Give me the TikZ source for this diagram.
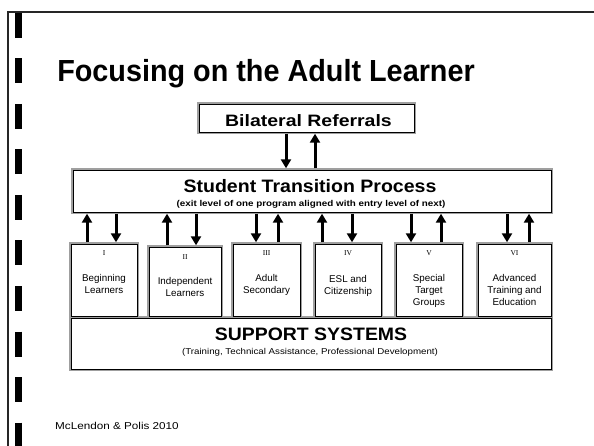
\documentclass[tikz,border=0pt]{standalone}
\usepackage{graphicx}
\usepackage{fontspec}
\setmainfont{Liberation Sans}
\newfontfamily\numfont{Liberation Serif}
\usetikzlibrary{arrows.meta}
\newcommand{\hs}[2]{\scalebox{#1}[1]{#2}}
\begin{document}
\begin{tikzpicture}[x=1pt,y=-1pt,
  box/.style={draw=gray!75, line width=1.4pt, inner sep=0pt, fill=white},
  arr/.style={line width=3pt, -{Triangle[length=9pt,width=10pt]}},
  txt/.style={inner sep=0pt, anchor=base},
  lbl/.style={inner sep=0pt, align=center, font=\fontsize{9.8}{12}\selectfont},
  num/.style={inner sep=0pt, anchor=base, font=\numfont\fontsize{7.5}{9}\selectfont}]
\useasboundingbox (0,0) rectangle (594,446);
% slide frame
\draw[line width=2pt, black!85] (8,446) -- (8,12) -- (594,12);
\draw[line width=7pt, dash pattern=on 25pt off 20.5pt] (18.5,13) -- (18.5,446);
% title
\node[txt, font=\bfseries\fontsize{30.5}{31}\selectfont] (title) at (266,82) {\hs{0.944}{Focusing on the Adult Learner}};
% top boxes
\node[box, minimum width=217pt, minimum height=30pt] (br) at (306.5,118) {};
\node[box, minimum width=480pt, minimum height=44pt] (stp) at (312,191) {};
% bottom boxes
\node[box, minimum width=68pt, minimum height=74pt] (b1) at (104,280) {};
\node[box, minimum width=74pt, minimum height=71pt] (b2) at (185,281.5) {};
\node[box, minimum width=69pt, minimum height=74pt] (b3) at (266.5,280) {};
\node[box, minimum width=68pt, minimum height=74pt] (b4) at (348,280) {};
\node[box, minimum width=68pt, minimum height=74pt] (b5) at (429,280) {};
\node[box, minimum width=75pt, minimum height=74pt] (b6) at (514.5,280) {};
\node[box, minimum width=482pt, minimum height=53pt] (sup) at (311,343.5) {};
% inner dark borders
\foreach \n in {br,stp,b1,b2,b3,b4,b5,b6,sup}
  \draw[black, line width=0.7pt] ([shift={(1.6pt,-1.6pt)}]\n.north west) rectangle ([shift={(-1.6pt,1.6pt)}]\n.south east);
% texts
\node[txt, font=\bfseries\fontsize{16.5}{17}\selectfont] (brt) at (308.5,127) {\hs{1.18}{Bilateral Referrals}};
\node[txt, font=\bfseries\fontsize{18}{18}\selectfont] (stpt) at (310,193) {\hs{1.085}{Student Transition Process}};
\node[txt, font=\bfseries\fontsize{8.5}{9}\selectfont] (stps) at (311,206.5) {\hs{1.157}{(exit level of one program aligned with entry level of next)}};
\node[txt, font=\bfseries\fontsize{18}{18}\selectfont] (supt) at (311,340) {\hs{1.08}{SUPPORT SYSTEMS}};
\node[txt, font=\fontsize{8.5}{9}\selectfont] (sups) at (310,354) {\hs{1.144}{(Training, Technical Assistance, Professional Development)}};
\node[txt, anchor=base west, font=\fontsize{10}{10}\selectfont] (ft) at (55,429) {\hs{1.17}{McLendon \& Polis 2010}};
% numerals
\node[num] (n1) at (104,256) {I};
\node[num] (n2) at (185,260) {II};
\node[num] (n3) at (266.5,256) {III};
\node[num] (n4) at (348,256) {IV};
\node[num] (n5) at (429,256) {V};
\node[num] (n6) at (514.5,256) {VI};
% box labels
\node[lbl] (l1) at (104,284) {Beginning\\Learners};
\node[lbl] (l2) at (185,287) {Independent\\Learners};
\node[lbl] (l3) at (266.5,285) {Adult\\Secondary};
\node[lbl] (l4) at (348,285.5) {ESL and\\Citizenship};
\node[lbl] (l5) at (429,291) {Special\\Target\\Groups};
\node[lbl] (l6) at (514.5,290) {Advanced\\Training and\\Education};
% arrows between Bilateral Referrals and Student Transition Process
\draw[arr] ([xshift=-20.5pt]br.south) -- ([xshift=-20.5pt]br.south |- stp.north);
\draw[arr] ([xshift=8.5pt]br.south |- stp.north) -- ([xshift=8.5pt]br.south);
% arrows between Student Transition Process and programs
\draw[arr] ([xshift=-17pt]b1.north) -- ([xshift=-17pt]b1.north |- stp.south);
\draw[arr] ([xshift=12pt]b1.north |- stp.south) -- ([xshift=12pt]b1.north);
\draw[arr] ([xshift=-18pt]b2.north) -- ([xshift=-18pt]b2.north |- stp.south);
\draw[arr] ([xshift=11pt]b2.north |- stp.south) -- ([xshift=11pt]b2.north);
\draw[arr] ([xshift=-10.5pt]b3.north |- stp.south) -- ([xshift=-10.5pt]b3.north);
\draw[arr] ([xshift=11.5pt]b3.north) -- ([xshift=11.5pt]b3.north |- stp.south);
\draw[arr] ([xshift=-26pt]b4.north) -- ([xshift=-26pt]b4.north |- stp.south);
\draw[arr] ([xshift=4pt]b4.north |- stp.south) -- ([xshift=4pt]b4.north);
\draw[arr] ([xshift=-18pt]b5.north |- stp.south) -- ([xshift=-18pt]b5.north);
\draw[arr] ([xshift=12pt]b5.north) -- ([xshift=12pt]b5.north |- stp.south);
\draw[arr] ([xshift=-7.5pt]b6.north |- stp.south) -- ([xshift=-7.5pt]b6.north);
\draw[arr] ([xshift=14.5pt]b6.north) -- ([xshift=14.5pt]b6.north |- stp.south);
\end{tikzpicture}
\end{document}
